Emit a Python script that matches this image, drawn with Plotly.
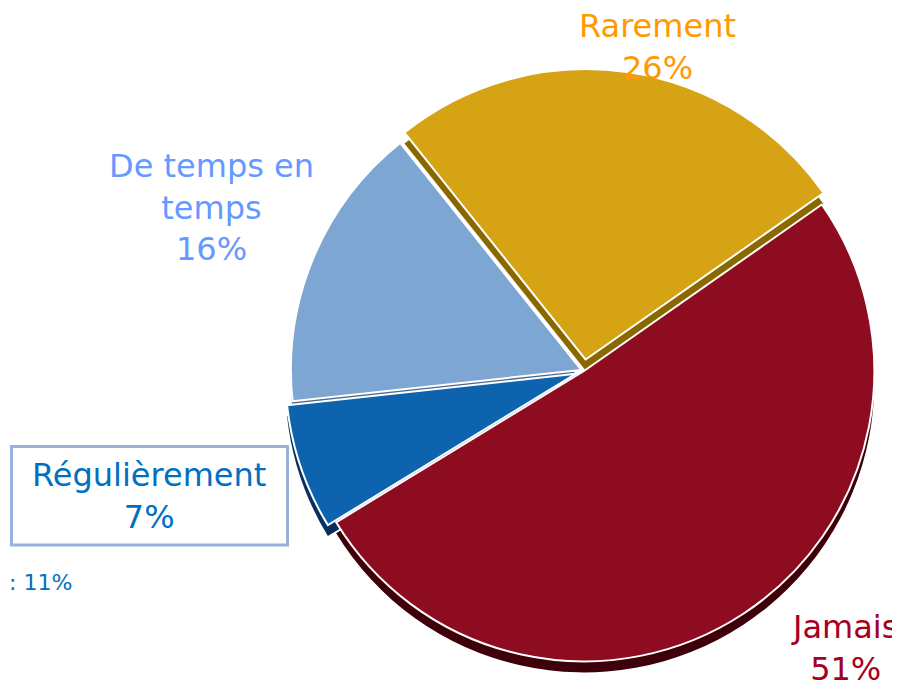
import plotly.graph_objects as go

# ---- data ----
categories = ["Jamais", "Régulièrement", "De temps en temps", "Rarement"]
display_labels = ["Jamais", "Régulièrement", "De temps en<br>temps", "Rarement"]
values = [51, 7, 16, 26]
fragment_text = ": 11%"

# ---- styles ----
top_colors = ["#8E0C1F", "#0E63AE", "#7EA6D2", "#D6A314"]
side_colors = ["#3E0009", "#08305E", "#4E6A8E", "#8A6800"]
text_colors = ["#A50021", "#0070C0", "#6699FF", "#FF9900"]
pulls = [0, 0.03, 0.01, 0.04]

W, H = 900, 687
FONT = "DejaVu Sans"
OFF = 8  # page margin offset in the rendered page


def px(x):
    return (x - OFF) / W


def py(y):
    return 1 - (y - OFF) / H


dx = -7 / W
dy = 7 / H
dom_x = [0.3122 + dx, 0.9833 + dx]
dom_y = [0.0218 + dy, 0.9010 + dy]
depth = 11 / H

fig = go.Figure()
# 3D side (shadow) pie
fig.add_trace(go.Pie(
    labels=categories, values=values, sort=False, direction="clockwise",
    rotation=55, pull=pulls, textinfo="none", hoverinfo="skip",
    marker=dict(colors=side_colors, line=dict(color="white", width=0)),
    domain=dict(x=dom_x, y=[dom_y[0] - depth, dom_y[1] - depth]),
    showlegend=False,
))
# top pie
fig.add_trace(go.Pie(
    labels=categories, values=values, sort=False, direction="clockwise",
    rotation=55, pull=pulls, textinfo="none",
    marker=dict(colors=top_colors, line=dict(color="white", width=2)),
    domain=dict(x=dom_x, y=dom_y),
    showlegend=False,
))

# label annotations (paper coordinates)
label_pos = {
    "Jamais": (px(844), py(648)),
    "Régulièrement": (px(149), py(496)),
    "De temps en temps": (px(211), py(207)),
    "Rarement": (px(657), py(47)),
}
annotations = []
for cat, lab, val, col in zip(categories, display_labels, values, text_colors):
    x, y = label_pos[cat]
    annotations.append(dict(
        x=x, y=y, xref="paper", yref="paper", xanchor="center", yanchor="middle",
        text=f"{lab}<br>{val}%", showarrow=False, align="center",
        font=dict(family=FONT, size=32, color=col),
    ))

annotations.append(dict(
    x=px(40), y=py(582), xref="paper", yref="paper", xanchor="center", yanchor="middle",
    text=fragment_text, showarrow=False,
    font=dict(family=FONT, size=22, color="#0070C0"),
))

shapes = [dict(
    type="rect", xref="paper", yref="paper",
    x0=px(11.5), x1=px(287.5), y0=py(545), y1=py(446.5),
    line=dict(color="#95B3D7", width=3), fillcolor="rgba(0,0,0,0)", layer="below",
)]

fig.update_layout(
    width=W, height=H,
    margin=dict(l=0, r=0, t=0, b=0),
    paper_bgcolor="white", plot_bgcolor="white",
    annotations=annotations, shapes=shapes,
)

fig.write_html("out.html")
